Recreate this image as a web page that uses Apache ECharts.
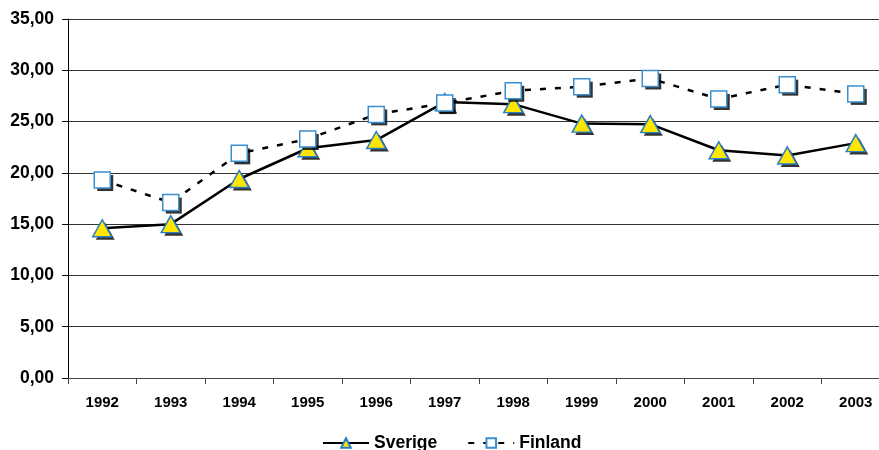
<!DOCTYPE html>
<html>
<head>
<meta charset="utf-8">
<script src="https://cdn.jsdelivr.net/npm/echarts@6/dist/echarts.min.js"></script>
<style>
  html, body { margin: 0; padding: 0; background: #fff; }
  #chart { width: 879px; height: 450px; }
</style>
</head>
<body>
<div id="chart"></div>
<script>
const years = ['1992', '1993', '1994', '1995', '1996', '1997', '1998', '1999', '2000', '2001', '2002', '2003'];
const sverige = [14.6, 15.0, 19.4, 22.4, 23.2, 26.9, 26.7, 24.8, 24.75, 22.2, 21.7, 22.9];
const finland = [19.3, 17.1, 21.9, 23.3, 25.7, 26.8, 28.0, 28.4, 29.2, 27.2, 28.6, 27.7];

const font = 'Liberation Sans, Arial, sans-serif';
const triSize = [19, 17];
const rectSize = 16;
const chart = echarts.init(document.getElementById('chart'));

// black drop shadow drawn as an offset copy of the markers
const shadow = (data, symbol, size, z) => ({
    type: 'scatter',
    data,
    symbol,
    symbolSize: size,
    symbolOffset: [3, 3],
    itemStyle: { color: '#000' },
    silent: true,
    z
});

chart.setOption({
    animation: false,
    backgroundColor: '#fff',
    grid: { left: 68, top: 19, width: 822, height: 359, outerBoundsMode: 'none', containLabel: false },
    legend: {
        top: 429,
        left: 317,
        itemGap: 30,
        itemWidth: 46,
        itemHeight: 12,
        textStyle: { fontFamily: font, fontWeight: 'bold', fontSize: 17.5, color: '#000' },
        data: ['Sverige', 'Finland']
    },
    xAxis: {
        type: 'category',
        data: years,
        boundaryGap: true,
        axisLine: { lineStyle: { color: '#444', width: 1 } },
        axisTick: { show: true, length: 6, lineStyle: { color: '#444' } },
        axisLabel: { fontFamily: font, fontWeight: 'bold', fontSize: 15, color: '#000', margin: 17 }
    },
    yAxis: {
        type: 'value',
        min: 0,
        max: 35,
        interval: 5,
        axisLine: { show: true, lineStyle: { color: '#000', width: 1 } },
        axisTick: { show: true, length: 6, lineStyle: { color: '#000' } },
        splitLine: { lineStyle: { color: '#333', width: 1 } },
        axisLabel: {
            fontFamily: font, fontWeight: 'bold', fontSize: 17.5, color: '#000', margin: 14,
            formatter: v => v.toFixed(2).replace('.', ',')
        }
    },
    series: [
        shadow(sverige, 'triangle', triSize, 1),
        {
            name: 'Sverige',
            type: 'line',
            data: sverige,
            symbol: 'triangle',
            symbolSize: triSize,
            lineStyle: { color: '#000', width: 2.5, type: 'solid' },
            itemStyle: { color: '#ffe600', borderColor: '#2a7fc4', borderWidth: 1.5 },
            z: 2
        },
        shadow(finland, 'rect', rectSize, 3),
        {
            name: 'Finland',
            type: 'line',
            data: finland,
            symbol: 'rect',
            symbolSize: rectSize,
            lineStyle: { color: '#000', width: 2.5, type: [6, 9] },
            itemStyle: { color: '#fff', borderColor: '#3a8fd0', borderWidth: 1.5 },
            z: 4
        }
    ]
});
</script>
</body>
</html>
